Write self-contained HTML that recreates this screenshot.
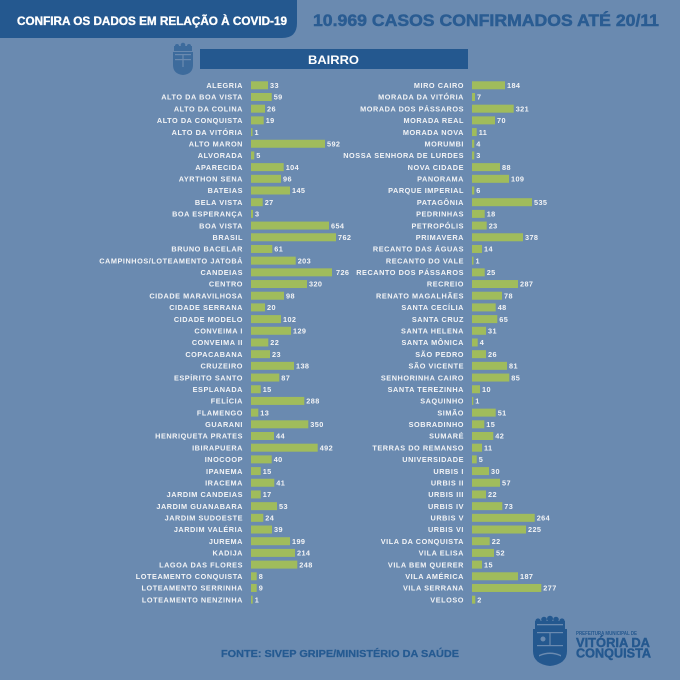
<!DOCTYPE html>
<html>
<head>
<meta charset="utf-8">
<style>
html,body{margin:0;padding:0;background:#6a8ab0;}
svg{display:block;}
.l{font-family:"Liberation Sans",sans-serif;font-weight:bold;font-size:7.3px;letter-spacing:0.55px;fill:#f3f4f6;text-anchor:end;}
.v{font-family:"Liberation Sans",sans-serif;font-weight:bold;font-size:7.3px;letter-spacing:0.4px;fill:#f3f4f6;}
rect.b{fill:#a0bc5c;}
</style>
</head>
<body>
<svg width="680" height="680" viewBox="0 0 680 680" xmlns="http://www.w3.org/2000/svg">
<rect x="0" y="0" width="680" height="680" fill="#6a8ab0"/>
<!-- header -->
<path d="M0,0 H297 V23 Q297,38 282,38 H0 Z" fill="#24588f"/>
<text x="17" y="25" font-family="Liberation Sans, sans-serif" font-weight="bold" font-size="11.7" fill="#ffffff" stroke="#ffffff" stroke-width="0.35" textLength="270" lengthAdjust="spacingAndGlyphs">CONFIRA OS DADOS EM RELAÇÃO À COVID-19</text>
<text x="313" y="26" font-family="Liberation Sans, sans-serif" font-weight="bold" font-size="16.5" fill="#2a5c92" stroke="#2a5c92" stroke-width="0.5" textLength="346" lengthAdjust="spacingAndGlyphs">10.969 CASOS CONFIRMADOS ATÉ 20/11</text>
<!-- crest small -->
<g fill="#3d6b9c">
<circle cx="177" cy="46" r="2"/><circle cx="183" cy="45" r="2.3"/><circle cx="189" cy="46" r="2"/>
<rect x="174" y="46" width="18" height="5"/>
<path d="M173,52 H193 V65 Q193,74 183,75 Q173,74 173,65 Z"/>
</g>
<g fill="#6a8ab0">
<rect x="175" y="54" width="16" height="1.2"/>
<rect x="175" y="59" width="16" height="1.2"/>
<rect x="182.4" y="55" width="1.2" height="12"/>
</g>
<rect x="200" y="49" width="268" height="20" fill="#24588f"/>
<text x="308" y="64" font-family="Liberation Sans, sans-serif" font-weight="bold" font-size="12" fill="#ffffff" textLength="51" lengthAdjust="spacingAndGlyphs">BAIRRO</text>

<!-- LEFT COLUMN -->
<g transform="translate(0,85.3)"><text x="243" y="2.7" class="l">ALEGRIA</text><rect class="b" x="251" y="-4" width="17" height="8"/><text x="270" y="2.7" class="v">33</text></g>
<g transform="translate(0,96.99)"><text x="243" y="2.7" class="l">ALTO DA BOA VISTA</text><rect class="b" x="251" y="-4" width="20.7" height="8"/><text x="273.7" y="2.7" class="v">59</text></g>
<g transform="translate(0,108.68)"><text x="243" y="2.7" class="l">ALTO DA COLINA</text><rect class="b" x="251" y="-4" width="14" height="8"/><text x="267" y="2.7" class="v">26</text></g>
<g transform="translate(0,120.37)"><text x="243" y="2.7" class="l">ALTO DA CONQUISTA</text><rect class="b" x="251" y="-4" width="12.7" height="8"/><text x="265.7" y="2.7" class="v">19</text></g>
<g transform="translate(0,132.06)"><text x="243" y="2.7" class="l">ALTO DA VITÓRIA</text><rect class="b" x="251" y="-4" width="1.5" height="8"/><text x="254.5" y="2.7" class="v">1</text></g>
<g transform="translate(0,143.75)"><text x="243" y="2.7" class="l">ALTO MARON</text><rect class="b" x="251" y="-4" width="74" height="8"/><text x="327" y="2.7" class="v">592</text></g>
<g transform="translate(0,155.44)"><text x="243" y="2.7" class="l">ALVORADA</text><rect class="b" x="251" y="-4" width="3.3" height="8"/><text x="256.3" y="2.7" class="v">5</text></g>
<g transform="translate(0,167.13)"><text x="243" y="2.7" class="l">APARECIDA</text><rect class="b" x="251" y="-4" width="32.7" height="8"/><text x="285.7" y="2.7" class="v">104</text></g>
<g transform="translate(0,178.82)"><text x="243" y="2.7" class="l">AYRTHON SENA</text><rect class="b" x="251" y="-4" width="30" height="8"/><text x="283" y="2.7" class="v">96</text></g>
<g transform="translate(0,190.51)"><text x="243" y="2.7" class="l">BATEIAS</text><rect class="b" x="251" y="-4" width="39" height="8"/><text x="292" y="2.7" class="v">145</text></g>
<g transform="translate(0,202.2)"><text x="243" y="2.7" class="l">BELA VISTA</text><rect class="b" x="251" y="-4" width="11.7" height="8"/><text x="264.7" y="2.7" class="v">27</text></g>
<g transform="translate(0,213.89)"><text x="243" y="2.7" class="l">BOA ESPERANÇA</text><rect class="b" x="251" y="-4" width="2" height="8"/><text x="255" y="2.7" class="v">3</text></g>
<g transform="translate(0,225.58)"><text x="243" y="2.7" class="l">BOA VISTA</text><rect class="b" x="251" y="-4" width="78" height="8"/><text x="331" y="2.7" class="v">654</text></g>
<g transform="translate(0,237.27)"><text x="243" y="2.7" class="l">BRASIL</text><rect class="b" x="251" y="-4" width="85" height="8"/><text x="338" y="2.7" class="v">762</text></g>
<g transform="translate(0,248.96)"><text x="243" y="2.7" class="l">BRUNO BACELAR</text><rect class="b" x="251" y="-4" width="21.3" height="8"/><text x="274.3" y="2.7" class="v">61</text></g>
<g transform="translate(0,260.65)"><text x="243" y="2.7" class="l">CAMPINHOS/LOTEAMENTO JATOBÁ</text><rect class="b" x="251" y="-4" width="44.7" height="8"/><text x="297.7" y="2.7" class="v">203</text></g>
<g transform="translate(0,272.34)"><text x="243" y="2.7" class="l">CANDEIAS</text><rect class="b" x="251" y="-4" width="81" height="8"/><text x="336" y="2.7" class="v">726</text></g>
<g transform="translate(0,284.03)"><text x="243" y="2.7" class="l">CENTRO</text><rect class="b" x="251" y="-4" width="56" height="8"/><text x="309" y="2.7" class="v">320</text></g>
<g transform="translate(0,295.72)"><text x="243" y="2.7" class="l">CIDADE MARAVILHOSA</text><rect class="b" x="251" y="-4" width="33" height="8"/><text x="286" y="2.7" class="v">98</text></g>
<g transform="translate(0,307.41)"><text x="243" y="2.7" class="l">CIDADE SERRANA</text><rect class="b" x="251" y="-4" width="14" height="8"/><text x="267" y="2.7" class="v">20</text></g>
<g transform="translate(0,319.1)"><text x="243" y="2.7" class="l">CIDADE MODELO</text><rect class="b" x="251" y="-4" width="30" height="8"/><text x="283" y="2.7" class="v">102</text></g>
<g transform="translate(0,330.79)"><text x="243" y="2.7" class="l">CONVEIMA I</text><rect class="b" x="251" y="-4" width="40" height="8"/><text x="293" y="2.7" class="v">129</text></g>
<g transform="translate(0,342.48)"><text x="243" y="2.7" class="l">CONVEIMA II</text><rect class="b" x="251" y="-4" width="17.3" height="8"/><text x="270.3" y="2.7" class="v">22</text></g>
<g transform="translate(0,354.17)"><text x="243" y="2.7" class="l">COPACABANA</text><rect class="b" x="251" y="-4" width="19" height="8"/><text x="272" y="2.7" class="v">23</text></g>
<g transform="translate(0,365.86)"><text x="243" y="2.7" class="l">CRUZEIRO</text><rect class="b" x="251" y="-4" width="43" height="8"/><text x="296" y="2.7" class="v">138</text></g>
<g transform="translate(0,377.55)"><text x="243" y="2.7" class="l">ESPÍRITO SANTO</text><rect class="b" x="251" y="-4" width="28.3" height="8"/><text x="281.3" y="2.7" class="v">87</text></g>
<g transform="translate(0,389.24)"><text x="243" y="2.7" class="l">ESPLANADA</text><rect class="b" x="251" y="-4" width="9.7" height="8"/><text x="262.7" y="2.7" class="v">15</text></g>
<g transform="translate(0,400.93)"><text x="243" y="2.7" class="l">FELÍCIA</text><rect class="b" x="251" y="-4" width="53.3" height="8"/><text x="306.3" y="2.7" class="v">288</text></g>
<g transform="translate(0,412.62)"><text x="243" y="2.7" class="l">FLAMENGO</text><rect class="b" x="251" y="-4" width="7.3" height="8"/><text x="260.3" y="2.7" class="v">13</text></g>
<g transform="translate(0,424.31)"><text x="243" y="2.7" class="l">GUARANI</text><rect class="b" x="251" y="-4" width="57.3" height="8"/><text x="310.3" y="2.7" class="v">350</text></g>
<g transform="translate(0,436)"><text x="243" y="2.7" class="l">HENRIQUETA PRATES</text><rect class="b" x="251" y="-4" width="23" height="8"/><text x="276" y="2.7" class="v">44</text></g>
<g transform="translate(0,447.69)"><text x="243" y="2.7" class="l">IBIRAPUERA</text><rect class="b" x="251" y="-4" width="66.7" height="8"/><text x="319.7" y="2.7" class="v">492</text></g>
<g transform="translate(0,459.38)"><text x="243" y="2.7" class="l">INOCOOP</text><rect class="b" x="251" y="-4" width="20.7" height="8"/><text x="273.7" y="2.7" class="v">40</text></g>
<g transform="translate(0,471.07)"><text x="243" y="2.7" class="l">IPANEMA</text><rect class="b" x="251" y="-4" width="9.7" height="8"/><text x="262.7" y="2.7" class="v">15</text></g>
<g transform="translate(0,482.76)"><text x="243" y="2.7" class="l">IRACEMA</text><rect class="b" x="251" y="-4" width="23.3" height="8"/><text x="276.3" y="2.7" class="v">41</text></g>
<g transform="translate(0,494.45)"><text x="243" y="2.7" class="l">JARDIM CANDEIAS</text><rect class="b" x="251" y="-4" width="9.7" height="8"/><text x="262.7" y="2.7" class="v">17</text></g>
<g transform="translate(0,506.14)"><text x="243" y="2.7" class="l">JARDIM GUANABARA</text><rect class="b" x="251" y="-4" width="26" height="8"/><text x="279" y="2.7" class="v">53</text></g>
<g transform="translate(0,517.83)"><text x="243" y="2.7" class="l">JARDIM SUDOESTE</text><rect class="b" x="251" y="-4" width="12.3" height="8"/><text x="265.3" y="2.7" class="v">24</text></g>
<g transform="translate(0,529.52)"><text x="243" y="2.7" class="l">JARDIM VALÉRIA</text><rect class="b" x="251" y="-4" width="21" height="8"/><text x="274" y="2.7" class="v">39</text></g>
<g transform="translate(0,541.21)"><text x="243" y="2.7" class="l">JUREMA</text><rect class="b" x="251" y="-4" width="39" height="8"/><text x="292" y="2.7" class="v">199</text></g>
<g transform="translate(0,552.9)"><text x="243" y="2.7" class="l">KADIJA</text><rect class="b" x="251" y="-4" width="44" height="8"/><text x="297" y="2.7" class="v">214</text></g>
<g transform="translate(0,564.59)"><text x="243" y="2.7" class="l">LAGOA DAS FLORES</text><rect class="b" x="251" y="-4" width="46.3" height="8"/><text x="299.3" y="2.7" class="v">248</text></g>
<g transform="translate(0,576.28)"><text x="243" y="2.7" class="l">LOTEAMENTO CONQUISTA</text><rect class="b" x="251" y="-4" width="5.7" height="8"/><text x="258.7" y="2.7" class="v">8</text></g>
<g transform="translate(0,587.97)"><text x="243" y="2.7" class="l">LOTEAMENTO SERRINHA</text><rect class="b" x="251" y="-4" width="5.7" height="8"/><text x="258.7" y="2.7" class="v">9</text></g>
<g transform="translate(0,599.66)"><text x="243" y="2.7" class="l">LOTEAMENTO NENZINHA</text><rect class="b" x="251" y="-4" width="1.7" height="8"/><text x="254.7" y="2.7" class="v">1</text></g>

<!-- RIGHT COLUMN -->
<g transform="translate(0,85.3)"><text x="464" y="2.7" class="l">MIRO CAIRO</text><rect class="b" x="472" y="-4" width="33" height="8"/><text x="507" y="2.7" class="v">184</text></g>
<g transform="translate(0,96.99)"><text x="464" y="2.7" class="l">MORADA DA VITÓRIA</text><rect class="b" x="472" y="-4" width="3" height="8"/><text x="477" y="2.7" class="v">7</text></g>
<g transform="translate(0,108.68)"><text x="464" y="2.7" class="l">MORADA DOS PÁSSAROS</text><rect class="b" x="472" y="-4" width="41.7" height="8"/><text x="515.7" y="2.7" class="v">321</text></g>
<g transform="translate(0,120.37)"><text x="464" y="2.7" class="l">MORADA REAL</text><rect class="b" x="472" y="-4" width="23" height="8"/><text x="497" y="2.7" class="v">70</text></g>
<g transform="translate(0,132.06)"><text x="464" y="2.7" class="l">MORADA NOVA</text><rect class="b" x="472" y="-4" width="4.7" height="8"/><text x="478.7" y="2.7" class="v">11</text></g>
<g transform="translate(0,143.75)"><text x="464" y="2.7" class="l">MORUMBI</text><rect class="b" x="472" y="-4" width="2.3" height="8"/><text x="476.3" y="2.7" class="v">4</text></g>
<g transform="translate(0,155.44)"><text x="464" y="2.7" class="l">NOSSA SENHORA DE LURDES</text><rect class="b" x="472" y="-4" width="2.3" height="8"/><text x="476.3" y="2.7" class="v">3</text></g>
<g transform="translate(0,167.13)"><text x="464" y="2.7" class="l">NOVA CIDADE</text><rect class="b" x="472" y="-4" width="28" height="8"/><text x="502" y="2.7" class="v">88</text></g>
<g transform="translate(0,178.82)"><text x="464" y="2.7" class="l">PANORAMA</text><rect class="b" x="472" y="-4" width="37" height="8"/><text x="511" y="2.7" class="v">109</text></g>
<g transform="translate(0,190.51)"><text x="464" y="2.7" class="l">PARQUE IMPERIAL</text><rect class="b" x="472" y="-4" width="2.3" height="8"/><text x="476.3" y="2.7" class="v">6</text></g>
<g transform="translate(0,202.2)"><text x="464" y="2.7" class="l">PATAGÔNIA</text><rect class="b" x="472" y="-4" width="60" height="8"/><text x="534" y="2.7" class="v">535</text></g>
<g transform="translate(0,213.89)"><text x="464" y="2.7" class="l">PEDRINHAS</text><rect class="b" x="472" y="-4" width="12.7" height="8"/><text x="486.7" y="2.7" class="v">18</text></g>
<g transform="translate(0,225.58)"><text x="464" y="2.7" class="l">PETROPÓLIS</text><rect class="b" x="472" y="-4" width="14.7" height="8"/><text x="488.7" y="2.7" class="v">23</text></g>
<g transform="translate(0,237.27)"><text x="464" y="2.7" class="l">PRIMAVERA</text><rect class="b" x="472" y="-4" width="51" height="8"/><text x="525" y="2.7" class="v">378</text></g>
<g transform="translate(0,248.96)"><text x="464" y="2.7" class="l">RECANTO DAS ÁGUAS</text><rect class="b" x="472" y="-4" width="10" height="8"/><text x="484" y="2.7" class="v">14</text></g>
<g transform="translate(0,260.65)"><text x="464" y="2.7" class="l">RECANTO DO VALE</text><rect class="b" x="472" y="-4" width="1.5" height="8"/><text x="475.5" y="2.7" class="v">1</text></g>
<g transform="translate(0,272.34)"><text x="464" y="2.7" class="l">RECANTO DOS PÁSSAROS</text><rect class="b" x="472" y="-4" width="12.7" height="8"/><text x="486.7" y="2.7" class="v">25</text></g>
<g transform="translate(0,284.03)"><text x="464" y="2.7" class="l">RECREIO</text><rect class="b" x="472" y="-4" width="46" height="8"/><text x="520" y="2.7" class="v">287</text></g>
<g transform="translate(0,295.72)"><text x="464" y="2.7" class="l">RENATO MAGALHÃES</text><rect class="b" x="472" y="-4" width="30" height="8"/><text x="504" y="2.7" class="v">78</text></g>
<g transform="translate(0,307.41)"><text x="464" y="2.7" class="l">SANTA CECÍLIA</text><rect class="b" x="472" y="-4" width="23.7" height="8"/><text x="497.7" y="2.7" class="v">48</text></g>
<g transform="translate(0,319.1)"><text x="464" y="2.7" class="l">SANTA CRUZ</text><rect class="b" x="472" y="-4" width="25.3" height="8"/><text x="499.3" y="2.7" class="v">65</text></g>
<g transform="translate(0,330.79)"><text x="464" y="2.7" class="l">SANTA HELENA</text><rect class="b" x="472" y="-4" width="14" height="8"/><text x="488" y="2.7" class="v">31</text></g>
<g transform="translate(0,342.48)"><text x="464" y="2.7" class="l">SANTA MÔNICA</text><rect class="b" x="472" y="-4" width="5.7" height="8"/><text x="479.7" y="2.7" class="v">4</text></g>
<g transform="translate(0,354.17)"><text x="464" y="2.7" class="l">SÃO PEDRO</text><rect class="b" x="472" y="-4" width="14" height="8"/><text x="488" y="2.7" class="v">26</text></g>
<g transform="translate(0,365.86)"><text x="464" y="2.7" class="l">SÃO VICENTE</text><rect class="b" x="472" y="-4" width="35" height="8"/><text x="509" y="2.7" class="v">81</text></g>
<g transform="translate(0,377.55)"><text x="464" y="2.7" class="l">SENHORINHA CAIRO</text><rect class="b" x="472" y="-4" width="37.3" height="8"/><text x="511.3" y="2.7" class="v">85</text></g>
<g transform="translate(0,389.24)"><text x="464" y="2.7" class="l">SANTA TEREZINHA</text><rect class="b" x="472" y="-4" width="8" height="8"/><text x="482" y="2.7" class="v">10</text></g>
<g transform="translate(0,400.93)"><text x="464" y="2.7" class="l">SAQUINHO</text><rect class="b" x="472" y="-4" width="1.3" height="8"/><text x="475.3" y="2.7" class="v">1</text></g>
<g transform="translate(0,412.62)"><text x="464" y="2.7" class="l">SIMÃO</text><rect class="b" x="472" y="-4" width="23.7" height="8"/><text x="497.7" y="2.7" class="v">51</text></g>
<g transform="translate(0,424.31)"><text x="464" y="2.7" class="l">SOBRADINHO</text><rect class="b" x="472" y="-4" width="12.3" height="8"/><text x="486.3" y="2.7" class="v">15</text></g>
<g transform="translate(0,436)"><text x="464" y="2.7" class="l">SUMARÉ</text><rect class="b" x="472" y="-4" width="21.3" height="8"/><text x="495.3" y="2.7" class="v">42</text></g>
<g transform="translate(0,447.69)"><text x="464" y="2.7" class="l">TERRAS DO REMANSO</text><rect class="b" x="472" y="-4" width="10" height="8"/><text x="484" y="2.7" class="v">11</text></g>
<g transform="translate(0,459.38)"><text x="464" y="2.7" class="l">UNIVERSIDADE</text><rect class="b" x="472" y="-4" width="4.7" height="8"/><text x="478.7" y="2.7" class="v">5</text></g>
<g transform="translate(0,471.07)"><text x="464" y="2.7" class="l">URBIS I</text><rect class="b" x="472" y="-4" width="17" height="8"/><text x="491" y="2.7" class="v">30</text></g>
<g transform="translate(0,482.76)"><text x="464" y="2.7" class="l">URBIS II</text><rect class="b" x="472" y="-4" width="28" height="8"/><text x="502" y="2.7" class="v">57</text></g>
<g transform="translate(0,494.45)"><text x="464" y="2.7" class="l">URBIS III</text><rect class="b" x="472" y="-4" width="14" height="8"/><text x="488" y="2.7" class="v">22</text></g>
<g transform="translate(0,506.14)"><text x="464" y="2.7" class="l">URBIS IV</text><rect class="b" x="472" y="-4" width="30.3" height="8"/><text x="504.3" y="2.7" class="v">73</text></g>
<g transform="translate(0,517.83)"><text x="464" y="2.7" class="l">URBIS V</text><rect class="b" x="472" y="-4" width="62.7" height="8"/><text x="536.7" y="2.7" class="v">264</text></g>
<g transform="translate(0,529.52)"><text x="464" y="2.7" class="l">URBIS VI</text><rect class="b" x="472" y="-4" width="54" height="8"/><text x="528" y="2.7" class="v">225</text></g>
<g transform="translate(0,541.21)"><text x="464" y="2.7" class="l">VILA DA CONQUISTA</text><rect class="b" x="472" y="-4" width="17.7" height="8"/><text x="491.7" y="2.7" class="v">22</text></g>
<g transform="translate(0,552.9)"><text x="464" y="2.7" class="l">VILA ELISA</text><rect class="b" x="472" y="-4" width="22" height="8"/><text x="496" y="2.7" class="v">52</text></g>
<g transform="translate(0,564.59)"><text x="464" y="2.7" class="l">VILA BEM QUERER</text><rect class="b" x="472" y="-4" width="10" height="8"/><text x="484" y="2.7" class="v">15</text></g>
<g transform="translate(0,576.28)"><text x="464" y="2.7" class="l">VILA AMÉRICA</text><rect class="b" x="472" y="-4" width="46" height="8"/><text x="520" y="2.7" class="v">187</text></g>
<g transform="translate(0,587.97)"><text x="464" y="2.7" class="l">VILA SERRANA</text><rect class="b" x="472" y="-4" width="69.3" height="8"/><text x="543.3" y="2.7" class="v">277</text></g>
<g transform="translate(0,599.66)"><text x="464" y="2.7" class="l">VELOSO</text><rect class="b" x="472" y="-4" width="3.3" height="8"/><text x="477.3" y="2.7" class="v">2</text></g>

<!-- footer -->
<text x="221" y="657" font-family="Liberation Sans, sans-serif" font-weight="bold" font-size="10" fill="#255a91" stroke="#255a91" stroke-width="0.25" textLength="238" lengthAdjust="spacingAndGlyphs">FONTE: SIVEP GRIPE/MINISTÉRIO DA SAÚDE</text>

<!-- logo crest -->
<g fill="#24588f">
<circle cx="538" cy="621" r="2.6"/><circle cx="544" cy="619.5" r="2.8"/><circle cx="550" cy="618.8" r="3"/><circle cx="556" cy="619.5" r="2.8"/><circle cx="562" cy="621" r="2.6"/>
<rect x="535" y="621" width="30" height="8"/>
<path d="M533,629 H567 V651 Q567,664 550,666 Q533,664 533,651 Z"/>
</g>
<g fill="#6a8ab0">
<rect x="537" y="624" width="26" height="1.3"/>
<rect x="537" y="632" width="26" height="1.2"/>
<rect x="537" y="645" width="26" height="1.2"/>
<rect x="549.4" y="633" width="1.2" height="12"/>
<circle cx="543" cy="639" r="2.5"/>
<path d="M539,655 Q550,650 561,655 L561,656.5 Q550,651.5 539,656.5 Z"/>
</g>
<text x="576" y="635" font-family="Liberation Sans, sans-serif" font-weight="bold" font-size="5" fill="#24588f" textLength="61" lengthAdjust="spacingAndGlyphs">PREFEITURA MUNICIPAL DE</text>
<text x="576" y="647" font-family="Liberation Sans, sans-serif" font-weight="bold" font-size="13" fill="#24588f" stroke="#24588f" stroke-width="0.4" textLength="74" lengthAdjust="spacingAndGlyphs">VITÓRIA DA</text>
<text x="576" y="657.5" font-family="Liberation Sans, sans-serif" font-weight="bold" font-size="12.5" fill="#24588f" stroke="#24588f" stroke-width="0.4" textLength="75" lengthAdjust="spacingAndGlyphs">CONQUISTA</text>
</svg>
</body>
</html>
